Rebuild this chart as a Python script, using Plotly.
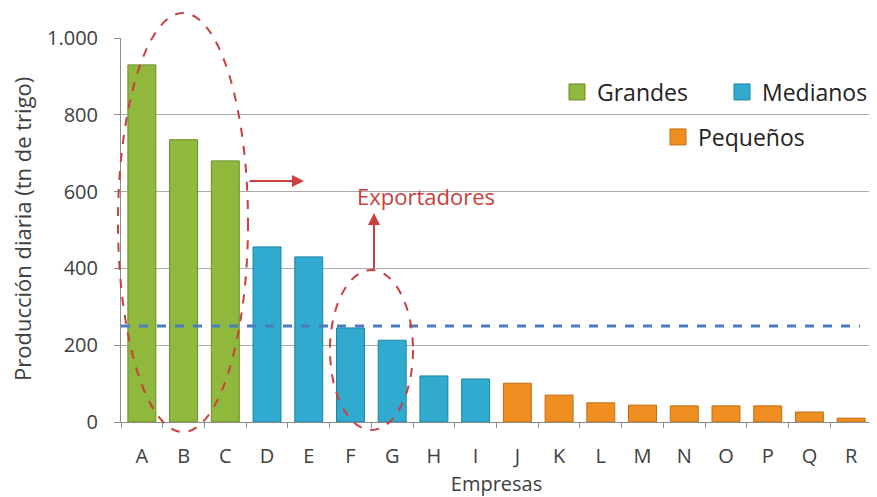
import plotly.graph_objects as go

categories_grandes = ["A", "B", "C"]
values_grandes = [930, 735, 680]
categories_medianos = ["D", "E", "F", "G", "H", "I"]
values_medianos = [456, 430, 245, 213, 120, 112]
categories_pequenos = ["J", "K", "L", "M", "N", "O", "P", "Q", "R"]
values_pequenos = [101, 70, 50, 44, 42, 42, 42, 26, 10]
threshold = 250
y_ticks = [0, 200, 400, 600, 800, 1000]
all_categories = categories_grandes + categories_medianos + categories_pequenos

# page body has an 8px default margin: size the figure to fit the window
OFF = 8
W, H = 877 - OFF, 497 - OFF
# plot area in window pixels: left 121, right 872, top 38, bottom 422
L, T = 121 - OFF, 38 - OFF
R = W - (872 - OFF)
B = H - (422 - OFF)
pw, ph = W - L - R, H - T - B

def px(x):
    return (x - OFF - L) / pw

def py(y):
    return (H - B - (y - OFF)) / ph

groups = [
    ("Grandes", categories_grandes, values_grandes, "#8fb83c", "#6a8c28", "legend"),
    ("Medianos", categories_medianos, values_medianos, "#30abcf", "#1f84a3", "legend2"),
    ("Pequeños", categories_pequenos, values_pequenos, "#f08f21", "#c26c12", "legend3"),
]

fig = go.Figure()
for name, cats, vals, col, edge, _ in groups:
    fig.add_trace(go.Bar(x=cats, y=vals, name=name, showlegend=False,
                         marker=dict(color=col, line=dict(color=edge, width=1))))
for name, cats, vals, col, edge, leg in groups:
    fig.add_trace(go.Scatter(x=[None], y=[None], mode="markers", name=name, legend=leg,
                             marker=dict(symbol="square", size=16, color=col,
                                         line=dict(color=edge, width=1))))

red = "#c9403d"
shapes = [
    dict(type="line", xref="paper", yref="y", x0=0, x1=px(860), y0=threshold, y1=threshold,
         line=dict(color="#4a7cc4", width=3, dash="dash")),
    dict(type="circle", xref="paper", yref="paper", x0=px(118), x1=px(248), y0=py(432), y1=py(13),
         line=dict(color=red, width=2, dash="dash")),
    dict(type="circle", xref="paper", yref="paper", x0=px(330), x1=px(413), y0=py(430), y1=py(270),
         line=dict(color=red, width=2, dash="dash")),
]

annotations = [
    dict(xref="paper", yref="paper", x=px(304), y=py(181), ax=-56, ay=0, text="",
         showarrow=True, arrowhead=2, arrowsize=1.2, arrowwidth=2, arrowcolor=red),
    dict(xref="paper", yref="paper", x=px(374), y=py(213), ax=0, ay=57, text="",
         showarrow=True, arrowhead=2, arrowsize=1.2, arrowwidth=2, arrowcolor=red),
    dict(xref="paper", yref="paper", x=px(426), y=py(196), text="Exportadores",
         showarrow=False, font=dict(color=red, size=22, family="Open Sans"),
         xanchor="center", yanchor="middle"),
    dict(xref="paper", yref="paper", x=px(22), y=py(229), text="Producción diaria (tn de trigo)",
         textangle=-90, showarrow=False, font=dict(color="#404040", size=22, family="Open Sans"),
         xanchor="center", yanchor="middle"),
]

legend_style = dict(orientation="h", xanchor="left", yanchor="middle",
                    font=dict(size=23, color="#222"), bgcolor="rgba(0,0,0,0)",
                    itemsizing="trace")

fig.update_layout(
    width=W, height=H,
    margin=dict(l=L, r=R, t=T, b=B, autoexpand=False),
    paper_bgcolor="white", plot_bgcolor="white",
    barmode="overlay", bargap=0.33,
    separators=",.",
    font=dict(family="Open Sans", color="#404040"),
    shapes=shapes, annotations=annotations,
    legend=dict(x=px(557), y=py(92), **legend_style),
    legend2=dict(x=px(722), y=py(92), **legend_style),
    legend3=dict(x=px(658), y=py(137), **legend_style),
    showlegend=True,
)
fig.update_xaxes(categoryorder="array", categoryarray=all_categories,
                 automargin=False,
                 showline=True, linecolor="#8c8c8c", linewidth=1,
                 ticks="outside", tickson="boundaries", ticklen=5, tickcolor="#8c8c8c",
                 ticklabelstandoff=16,
                 tickfont=dict(size=20, color="#404040"),
                 title=dict(text="Empresas", font=dict(size=20, color="#404040"), standoff=14))
fig.update_yaxes(range=[0, 1000], tickvals=y_ticks, tickformat=",d",
                 automargin=False,
                 showline=True, linecolor="#8c8c8c", linewidth=1,
                 ticks="outside", ticklen=6, tickcolor="#8c8c8c",
                 ticklabelstandoff=12,
                 showgrid=True, gridcolor="#aaaaaa", gridwidth=1,
                 zeroline=False,
                 tickfont=dict(size=20, color="#404040"))

fig.write_html("out.html")
